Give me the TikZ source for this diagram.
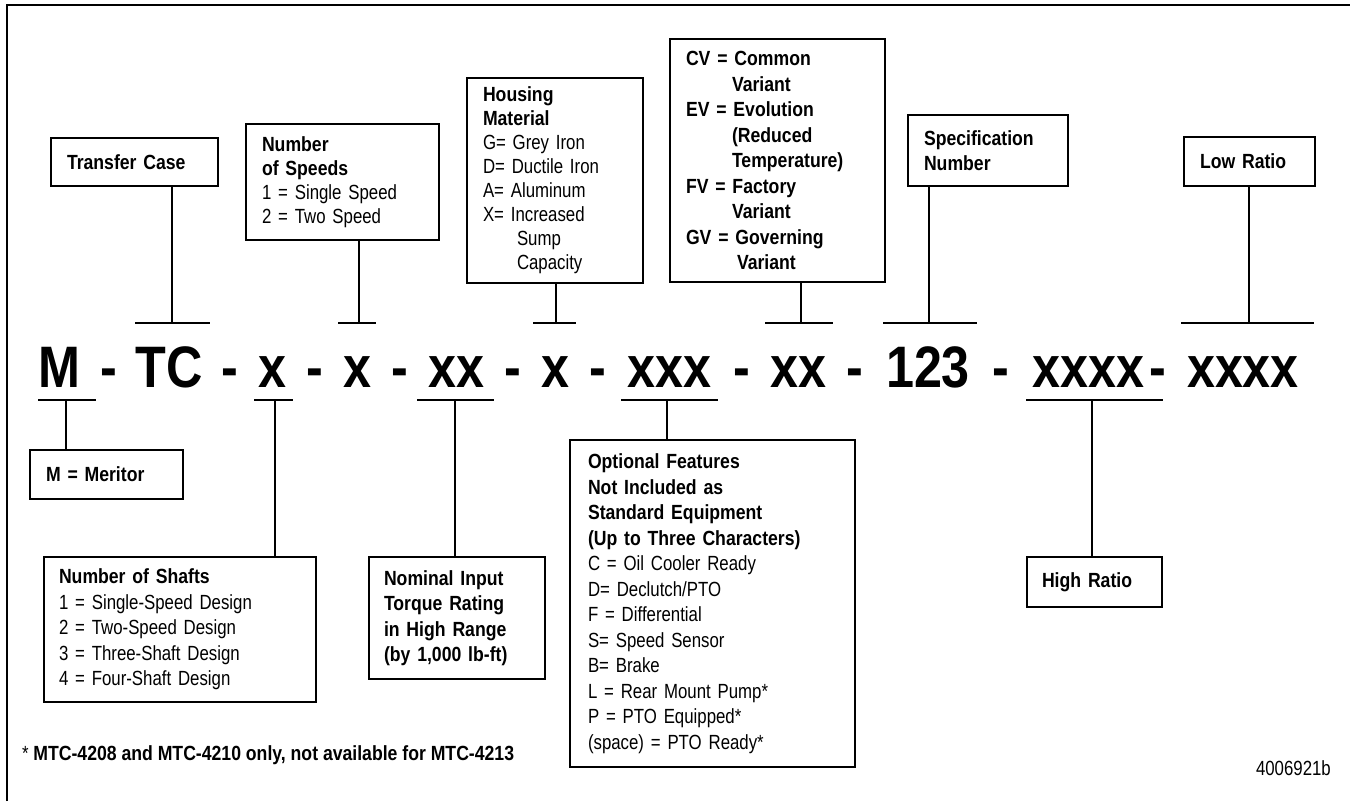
\documentclass[tikz,border=0pt]{standalone}
\usepackage{fontspec}
\setmainfont{Liberation Sans}[UprightFeatures={FakeStretch=0.82},BoldFeatures={FakeStretch=0.86}]
\usepackage{tikz}
\usepackage{xcolor}

\newcommand{\codefont}{\fontsize{58.5}{60}\selectfont\bfseries}
\newcommand{\boxfont}{\fontsize{20.5}{25.5}\selectfont}

\begin{document}
\begin{tikzpicture}[x=1pt,y=-1pt,
  box/.style={draw,line width=2pt,anchor=north west,inner xsep=16pt,inner ysep=0pt,align=left,font=\boxfont},
  tight/.style={font=\fontsize{20.5}{24}\selectfont},
  lead/.style={line width=1.8pt},
  code/.style={anchor=base,inner sep=0pt,font=\codefont}]
  \useasboundingbox (0,0) rectangle (1350,801);
  \draw[line width=2pt] (7,801) -- (7,5) -- (1350,5);
  % code line
  \node[code] (cM) at (59,387) {M};
  \node[code] (cTC) at (169.5,387) {TC};
  \node[code] (cx1) at (272,387) {x};
  \node[code] (cx2) at (357.5,387) {x};
  \node[code] (cx3) at (456.5,387) {xx};
  \node[code] (cx4) at (555.5,387) {x};
  \node[code] (cx5) at (669.5,387) {xxx};
  \node[code] (cx6) at (798.5,387) {xx};
  \node[code] (cnum) at (928,387) {123};
  \node[code] (cx7) at (1088.5,387) {xxxx};
  \node[code] (cx8) at (1243,387) {xxxx};
  \foreach \x [count=\i] in {109,229.5,314.5,399.5,513,598,741.5,855,1000.5,1158}
    \node[code] (dash\i) at (\x,387) {-};
  % boxes above
  \node[box,text width=135pt,minimum height=48pt] (tcase) at (50,137) {\textbf{Transfer Case}};
  \node[box,tight,text width=161pt,minimum height=116pt] (speeds) at (245,123)
    {\textbf{Number}\\\textbf{of Speeds}\\1 = Single Speed\\2 = Two Speed};
  \node[box,tight,text width=144pt,minimum height=205pt] (housing) at (466,77)
    {\textbf{Housing}\\\textbf{Material}\\G= Grey Iron\\D= Ductile Iron\\A= Aluminum\\X= Increased\\\hspace*{34pt}Sump\\\hspace*{34pt}Capacity};
  \node[box,text width=183pt,minimum height=243pt,font=\boxfont\bfseries] (variant) at (669,38)
    {CV = Common\\\hspace*{46pt}Variant\\EV = Evolution\\\hspace*{46pt}(Reduced\\\hspace*{46pt}Temperature)\\FV = Factory\\\hspace*{46pt}Variant\\GV = Governing\\\hspace*{51pt}Variant};
  \node[box,text width=128pt,minimum height=71pt] (spec) at (907,114) {\textbf{Specification}\\\textbf{Number}};
  \node[box,text width=99pt,minimum height=49pt] (lowratio) at (1183,136) {\textbf{Low Ratio}};
  % boxes below
  \node[box,text width=121pt,minimum height=49pt] (meritor) at (29,449) {\textbf{M = Meritor}};
  \node[box,inner xsep=15pt,text width=242pt,minimum height=145pt] (shafts) at (43,556)
    {\textbf{Number of Shafts}\\1 = Single-Speed Design\\2 = Two-Speed Design\\3 = Three-Shaft Design\\4 = Four-Shaft Design};
  \node[box,inner xsep=15pt,text width=146pt,minimum height=122pt,font=\boxfont\bfseries] (torque) at (368,556)
    {Nominal Input\\Torque Rating\\in High Range\\(by 1,000 lb-ft)};
  \node[box,inner xsep=18pt,text width=249pt,minimum height=327pt] (options) at (569,439)
    {\textbf{Optional Features}\\\textbf{Not Included as}\\\textbf{Standard Equipment}\\\textbf{(Up to Three Characters)}\\C = Oil Cooler Ready\\D= Declutch/PTO\\F = Differential\\S= Speed Sensor\\B= Brake\\L = Rear Mount Pump*\\P = PTO Equipped*\\(space) = PTO Ready*};
  \node[box,inner xsep=15pt,text width=105pt,minimum height=50pt] (highratio) at (1026,556) {\textbf{High Ratio}};
  % leads above the code
  \coordinate (tcase-bar) at (172,323);
  \coordinate (speeds-bar) at (359,323);
  \coordinate (housing-bar) at (556,323);
  \coordinate (variant-bar) at (801,323);
  \coordinate (spec-bar) at (929,323);
  \coordinate (lowratio-bar) at (1249,323);
  \draw[lead] (tcase.south -| tcase-bar) -- (tcase-bar);
  \draw[lead] (speeds.south -| speeds-bar) -- (speeds-bar);
  \draw[lead] (housing.south -| housing-bar) -- (housing-bar);
  \draw[lead] (variant.south -| variant-bar) -- (variant-bar);
  \draw[lead] (spec.south -| spec-bar) -- (spec-bar);
  \draw[lead] (lowratio.south -| lowratio-bar) -- (lowratio-bar);
  \draw[lead] (135,323) -- (210,323);
  \draw[lead] (338,323) -- (376,323);
  \draw[lead] (533,323) -- (576,323);
  \draw[lead] (765,323) -- (833,323);
  \draw[lead] (883,323) -- (977,323);
  \draw[lead] (1181,323) -- (1314,323);
  % leads below the code
  \coordinate (meritor-bar) at (66,400);
  \coordinate (shafts-bar) at (275,400);
  \coordinate (torque-bar) at (455,400);
  \coordinate (options-bar) at (667,400);
  \coordinate (highratio-bar) at (1092,400);
  \draw[lead] (meritor-bar) -- (meritor.north -| meritor-bar);
  \draw[lead] (shafts-bar) -- (shafts.north -| shafts-bar);
  \draw[lead] (torque-bar) -- (torque.north -| torque-bar);
  \draw[lead] (options-bar) -- (options.north -| options-bar);
  \draw[lead] (highratio-bar) -- (highratio.north -| highratio-bar);
  \draw[lead] (38,400) -- (96,400);
  \draw[lead] (254,400) -- (293,400);
  \draw[lead] (417,400) -- (494,400);
  \draw[lead] (621,400) -- (718,400);
  \draw[lead] (1026,400) -- (1163,400);
  % footnote and drawing number
  \node[anchor=base west,inner sep=0pt,font=\boxfont] (note) at (22,760)
    {* \textbf{MTC-4208 and MTC-4210 only, not available for MTC-4213}};
  \node[anchor=base east,inner sep=0pt,font=\boxfont] (drawno) at (1331,775) {4006921b};
\end{tikzpicture}
\end{document}
